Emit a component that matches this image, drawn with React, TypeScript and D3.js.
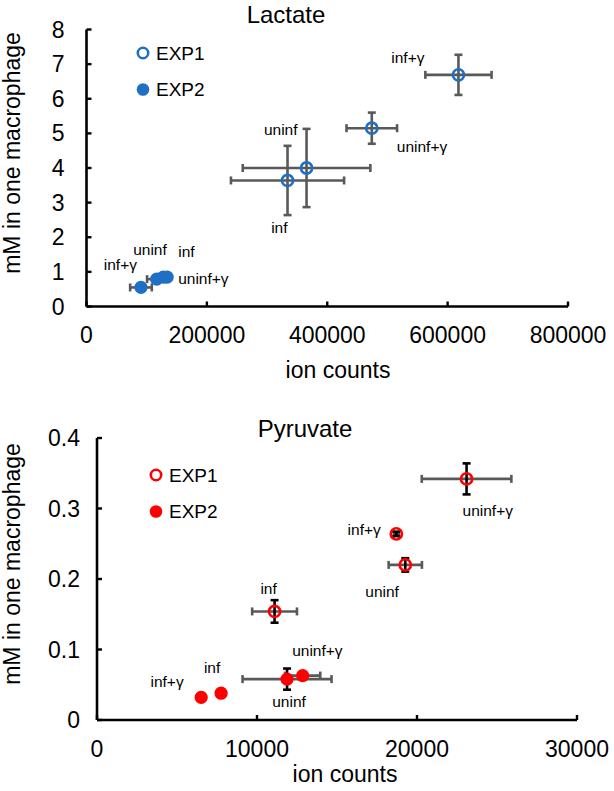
import React from "react";
import * as d3 from "d3";

// ---------- DATA ----------
const conditions = ["uninf", "inf", "uninf+γ", "inf+γ"];

// Lactate
const lacExp1X = [365600, 334000, 474000, 618000];
const lacExp1Y = [4.0, 3.64, 5.15, 6.69];
const lacExp1XErr = [106000, 94000, 42000, 55000];
const lacExp1YErr = [1.13, 1.0, 0.45, 0.58];
const lacExp2X = [116600, 127600, 134000, 90500];
const lacExp2Y = [0.79, 0.85, 0.85, 0.55];
const lacExp2XErr = [16000, 0, 0, 18000];
const lacExp2YErr = [0, 0, 0, 0];
const lacXTicks = [0, 200000, 400000, 600000, 800000];
const lacYTicks = [0, 1, 2, 3, 4, 5, 6, 7, 8];

// Pyruvate
const pyrExp1X = [19268, 11098, 23098, 18707];
const pyrExp1Y = [0.22, 0.154, 0.342, 0.264];
const pyrExp1XErr = [1040, 1400, 2800, 150];
const pyrExp1YErr = [0.0095, 0.016, 0.022, 0.003];
const pyrExp2X = [11878, 7756, 12854, 6512];
const pyrExp2Y = [0.058, 0.038, 0.063, 0.032];
const pyrExp2XErr = [2780, 0, 1100, 0];
const pyrExp2YErr = [0.015, 0, 0, 0];
const pyrXTicks = [0, 10000, 20000, 30000];
const pyrYTicks = [0, 0.1, 0.2, 0.3, 0.4];

const seriesNames = ["EXP1", "EXP2"];

// ---------- LABEL PLACEMENT (px offsets from the point) ----------
type Place = { dx: number; dy: number; anchor: "start" | "middle" | "end" };
const lacExp1Place: Place[] = [
  { dx: -9, dy: -33, anchor: "end" },
  { dx: 0, dy: 53, anchor: "end" },
  { dx: 25, dy: 23.5, anchor: "start" },
  { dx: -34, dy: -11.5, anchor: "end" },
];
const lacExp2Place: Place[] = [
  { dx: -23.5, dy: -24.5, anchor: "start" },
  { dx: 15, dy: -20, anchor: "start" },
  { dx: 11, dy: 7, anchor: "start" },
  { dx: -4, dy: -17, anchor: "end" },
];
const pyrExp1Place: Place[] = [
  { dx: -40, dy: 32, anchor: "start" },
  { dx: -6, dy: -17, anchor: "middle" },
  { dx: -4, dy: 37, anchor: "start" },
  { dx: -15.5, dy: 1, anchor: "end" },
];
const pyrExp2Place: Place[] = [
  { dx: 2, dy: 28, anchor: "middle" },
  { dx: -9, dy: -20, anchor: "middle" },
  { dx: -10.5, dy: -19.7, anchor: "start" },
  { dx: -17.5, dy: -10, anchor: "end" },
];

const FONT = "'Liberation Sans', Arial, Helvetica, sans-serif";

type Series = {
  x: number[];
  y: number[];
  xe: number[];
  ye: number[];
  place: Place[];
  filled: boolean;
};

type PanelProps = {
  title: string;
  color: string;
  vErrColor: string;
  left: number;
  right: number;
  top: number;
  bottom: number;
  xMax: number;
  yMax: number;
  xTicks: number[];
  yTicks: number[];
  yFmt: (v: number) => string;
  series: Series[];
  titlePos: [number, number];
  xLabelPos: [number, number];
  yLabelPos: [number, number];
  legendPos: [number, number];
  yTickGap: number;
};

function Panel(p: PanelProps) {
  const x = d3.scaleLinear().domain([0, p.xMax]).range([p.left, p.right]);
  const y = d3.scaleLinear().domain([0, p.yMax]).range([p.bottom, p.top]);
  const grey = "#595959";
  const sw = 2.6;
  const cap = 4;
  return (
    <g fontFamily={FONT}>
      <text x={p.titlePos[0]} y={p.titlePos[1]} fontSize={24} textAnchor="middle">
        {p.title}
      </text>
      {/* axes */}
      <line x1={p.left} x2={p.left} y1={y(p.yMax)} y2={p.bottom} stroke="#000" strokeWidth={2.6} />
      <line x1={p.left} x2={x(p.xMax)} y1={p.bottom} y2={p.bottom} stroke="#000" strokeWidth={2.6} />
      {p.yTicks.map((t) => (
        <g key={"yt" + t}>
          <line x1={p.left} x2={p.left + 5} y1={y(t)} y2={y(t)} stroke="#000" strokeWidth={2.4} />
          <text x={p.left - p.yTickGap} y={y(t)} dy="0.35em" fontSize={23} textAnchor="end">
            {p.yFmt(t)}
          </text>
        </g>
      ))}
      {p.xTicks.map((t) => (
        <g key={"xt" + t}>
          <line x1={x(t)} x2={x(t)} y1={p.bottom} y2={p.bottom - 5} stroke="#000" strokeWidth={2.4} />
          <text x={x(t)} y={p.bottom + 36.5} fontSize={23} textAnchor="middle">
            {String(t)}
          </text>
        </g>
      ))}
      <text x={p.xLabelPos[0]} y={p.xLabelPos[1]} fontSize={23} textAnchor="middle">
        ion counts
      </text>
      <text
        transform={`translate(${p.yLabelPos[0]},${p.yLabelPos[1]}) rotate(-90)`}
        fontSize={23}
        textAnchor="middle"
      >
        mM in one macrophage
      </text>
      {/* error bars */}
      {p.series.map((s, si) =>
        s.x.map((xv, i) => {
          const cx = x(xv);
          const cy = y(s.y[i]);
          const xe = s.xe[i];
          const ye = s.ye[i];
          return (
            <g key={`e${si}-${i}`}>
              {xe > 0 && (
                <g stroke={grey} strokeWidth={sw}>
                  <line x1={x(xv - xe)} x2={x(xv + xe)} y1={cy} y2={cy} />
                  <line x1={x(xv - xe)} x2={x(xv - xe)} y1={cy - cap} y2={cy + cap} />
                  <line x1={x(xv + xe)} x2={x(xv + xe)} y1={cy - cap} y2={cy + cap} />
                </g>
              )}
              {ye > 0 && (
                <g stroke={p.vErrColor} strokeWidth={sw}>
                  <line x1={cx} x2={cx} y1={y(s.y[i] - ye)} y2={y(s.y[i] + ye)} />
                  <line x1={cx - cap} x2={cx + cap} y1={y(s.y[i] - ye)} y2={y(s.y[i] - ye)} />
                  <line x1={cx - cap} x2={cx + cap} y1={y(s.y[i] + ye)} y2={y(s.y[i] + ye)} />
                </g>
              )}
            </g>
          );
        })
      )}
      {/* markers */}
      {p.series.map((s, si) =>
        s.x.map((xv, i) =>
          s.filled ? (
            <circle key={`m${si}-${i}`} cx={x(xv)} cy={y(s.y[i])} r={6.6} fill={p.color} />
          ) : (
            <circle
              key={`m${si}-${i}`}
              cx={x(xv)}
              cy={y(s.y[i])}
              r={5.6}
              fill="none"
              stroke={p.color}
              strokeWidth={2.6}
            />
          )
        )
      )}
      {/* point labels */}
      {p.series.map((s, si) =>
        s.x.map((xv, i) => (
          <text
            key={`l${si}-${i}`}
            x={x(xv) + s.place[i].dx}
            y={y(s.y[i]) + s.place[i].dy}
            fontSize={15.5}
            textAnchor={s.place[i].anchor}
          >
            {conditions[i]}
          </text>
        ))
      )}
      {/* legend */}
      {seriesNames.map((n, i) => {
        const ly = p.legendPos[1] + i * 36.5;
        return (
          <g key={"lg" + n}>
            {i === 0 ? (
              <circle cx={p.legendPos[0]} cy={ly} r={5.2} fill="none" stroke={p.color} strokeWidth={2.6} />
            ) : (
              <circle cx={p.legendPos[0]} cy={ly} r={6.3} fill={p.color} />
            )}
            <text x={p.legendPos[0] + 13} y={ly} dy="0.36em" fontSize={19}>
              {n}
            </text>
          </g>
        );
      })}
    </g>
  );
}

export default function App() {
  return (
    <svg
      width={614}
      height={791}
      style={{ position: "absolute", left: 0, top: 0, background: "#fff" }}
    >
      <rect width={614} height={791} fill="#fff" />
      <Panel
        title="Lactate"
        color="#1f6fc4"
        vErrColor="#595959"
        left={86.5}
        right={568}
        top={29.5}
        bottom={306.5}
        xMax={800000}
        yMax={8}
        xTicks={lacXTicks}
        yTicks={lacYTicks}
        yFmt={(v) => String(v)}
        series={[
          { x: lacExp1X, y: lacExp1Y, xe: lacExp1XErr, ye: lacExp1YErr, place: lacExp1Place, filled: false },
          { x: lacExp2X, y: lacExp2Y, xe: lacExp2XErr, ye: lacExp2YErr, place: lacExp2Place, filled: true },
        ]}
        titlePos={[286, 23]}
        xLabelPos={[338, 378]}
        yLabelPos={[20, 153]}
        legendPos={[143, 53]}
        yTickGap={22}
      />
      <Panel
        title="Pyruvate"
        color="#ff0000"
        vErrColor="#000000"
        left={97}
        right={577}
        top={438}
        bottom={720}
        xMax={30000}
        yMax={0.4}
        xTicks={pyrXTicks}
        yTicks={pyrYTicks}
        yFmt={(v) => String(v)}
        series={[
          { x: pyrExp1X, y: pyrExp1Y, xe: pyrExp1XErr, ye: pyrExp1YErr, place: pyrExp1Place, filled: false },
          { x: pyrExp2X, y: pyrExp2Y, xe: pyrExp2XErr, ye: pyrExp2YErr, place: pyrExp2Place, filled: true },
        ]}
        titlePos={[305, 437]}
        xLabelPos={[345, 782]}
        yLabelPos={[20, 564]}
        legendPos={[156, 475]}
        yTickGap={17}
      />
    </svg>
  );
}
